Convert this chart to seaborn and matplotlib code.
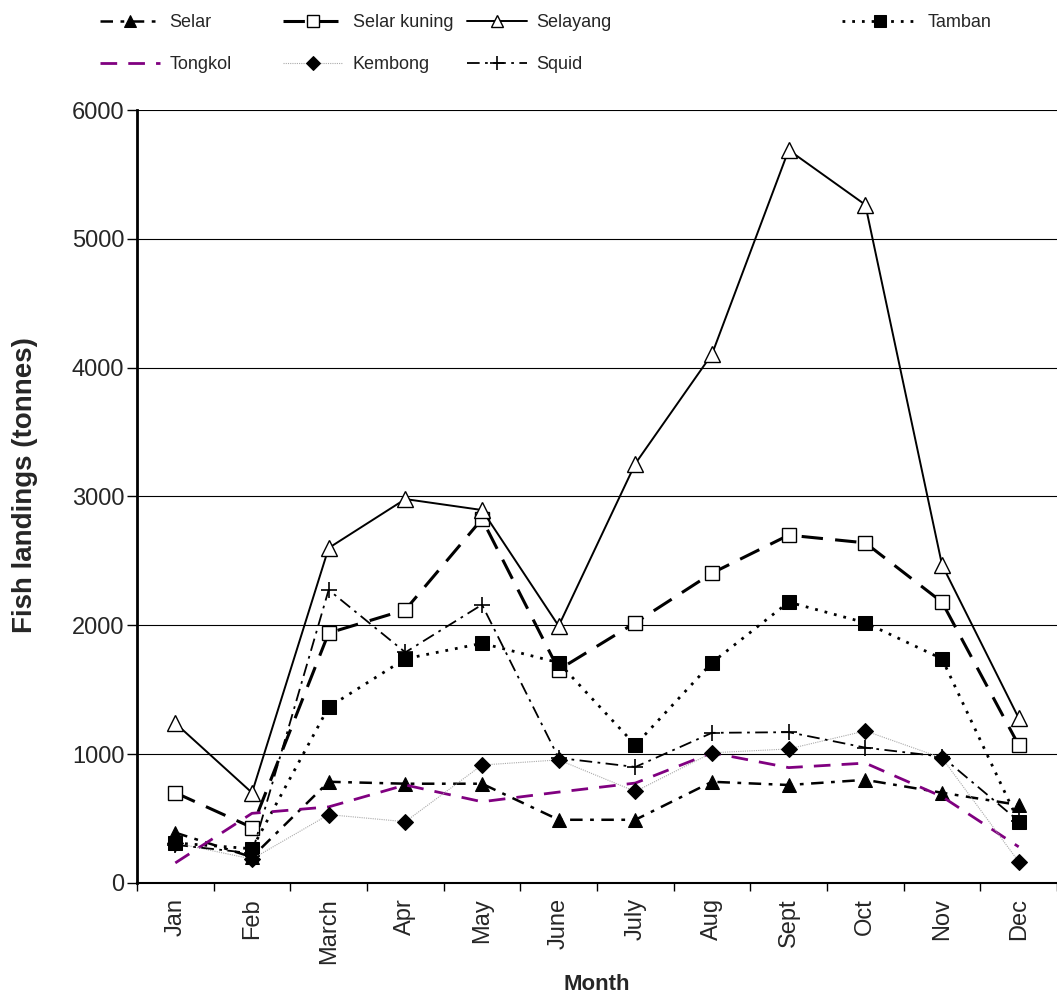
import numpy as np
import pandas as pd
import matplotlib
matplotlib.use('Agg')
import matplotlib.pyplot as plt
import seaborn as sns

# data (tonnes)
months = ['Jan', 'Feb', 'March', 'Apr', 'May', 'June',
          'July', 'Aug', 'Sept', 'Oct', 'Nov', 'Dec']
selar = [390, 200, 785, 770, 770, 490, 490, 785, 760, 800, 700, 605]
selar_kuning = [700, 430, 1940, 2120, 2825, 1655, 2020, 2405, 2700, 2640, 2180, 1070]
selayang = [1240, 700, 2600, 2980, 2895, 1995, 3255, 4105, 5690, 5265, 2470, 1280]
tamban = [310, 265, 1365, 1740, 1860, 1710, 1070, 1710, 2180, 2020, 1740, 475]
tongkol = [155, 540, 590, 760, 630, 705, 775, 1010, 895, 930, 670, 280]
kembong = [310, 185, 530, 475, 915, 955, 710, 1010, 1040, 1180, 970, 165]
squid = [295, 230, 2275, 1790, 2160, 970, 900, 1165, 1170, 1050, 980, 480]

sns.set_theme(style='white')
plt.rcParams['font.family'] = ['Liberation Sans', 'DejaVu Sans']

fig = plt.figure(figsize=(10.57, 10.01), dpi=100)
ax = fig.add_axes([0.1296, 0.118, 0.8704, 0.772])

x = np.arange(len(months))

# (label, values, line kwargs)
series = [
    ('Selar', selar, dict(color='black', lw=1.8, dashes=(5, 3, 1.5, 3),
                          marker='^', ms=10, mfc='black', mec='black')),
    ('Selar kuning', selar_kuning, dict(color='black', lw=2.2, dashes=(7, 4),
                                        marker='s', ms=10, mfc='white', mec='black', mew=1)),
    ('Selayang', selayang, dict(color='black', lw=1.4,
                                marker='^', ms=11, mfc='white', mec='black', mew=1)),
    ('Tamban', tamban, dict(color='black', lw=2.0, dashes=(1, 2.5),
                            marker='s', ms=10, mfc='black', mec='black')),
    ('Tongkol', tongkol, dict(color='#800080', lw=2.0, dashes=(6, 4))),
    ('Kembong', kembong, dict(color='#aaaaaa', lw=0.8, dashes=(1, 1),
                              marker='D', ms=8, mfc='black', mec='black')),
    ('Squid', squid, dict(color='black', lw=1.3, dashes=(7, 3, 1.5, 3),
                          marker='+', ms=12, mec='black', mew=1.2)),
]

handles = {}
for name, vals, kw in series:
    sns.lineplot(x=x, y=vals, ax=ax, sort=False, label=name, **kw)
    handles[name] = ax.get_lines()[-1]

ax.get_legend().remove()

ax.set_xlim(-0.5, 11.5)
ax.set_ylim(0, 6000)
ax.set_yticks(range(0, 6001, 1000))
ax.set_xticks(x)
ax.set_xticklabels(months, rotation=90, fontsize=17)
ax.set_xticks(np.arange(-0.5, 12, 1), minor=True)
ax.tick_params(axis='x', which='major', length=0, pad=11)
ax.tick_params(axis='x', which='minor', length=6, width=1, color='black', direction='out', bottom=True)
ax.tick_params(axis='y', length=7, width=1, color='black', direction='out', left=True,
               labelsize=17, pad=2)

ax.yaxis.grid(True, color='black', lw=0.8)
ax.xaxis.grid(False)
for s in ['top', 'right']:
    ax.spines[s].set_visible(False)
ax.spines['left'].set_color('black')
ax.spines['left'].set_linewidth(2)
ax.spines['bottom'].set_color('black')
ax.spines['bottom'].set_linewidth(1.5)

ax.set_xlabel('Month', fontsize=16, fontweight='bold', labelpad=7)
ax.set_ylabel('Fish landings (tonnes)', fontsize=20, fontweight='bold')
ax.yaxis.set_label_coords(-0.108, 0.515)

# legend: one column per legend so each column sits where the reference has it
columns = [(['Selar', 'Tongkol'], 100),
           (['Selar kuning', 'Kembong'], 283),
           (['Selayang', 'Squid'], 467),
           (['Tamban'], 842)]
W, H = 1057, 1001
for names, px in columns:
    hl = 4.2 if px == 842 else 3.3
    fig.legend([handles[n] for n in names], names, loc='upper left',
               bbox_to_anchor=(px / W, 1 - 14 / H), frameon=False, fontsize=13,
               borderpad=0, borderaxespad=0, handlelength=hl, handletextpad=0.55,
               labelspacing=1.4, markerscale=0.85)

fig.savefig('out.png', dpi=100, facecolor='white')
